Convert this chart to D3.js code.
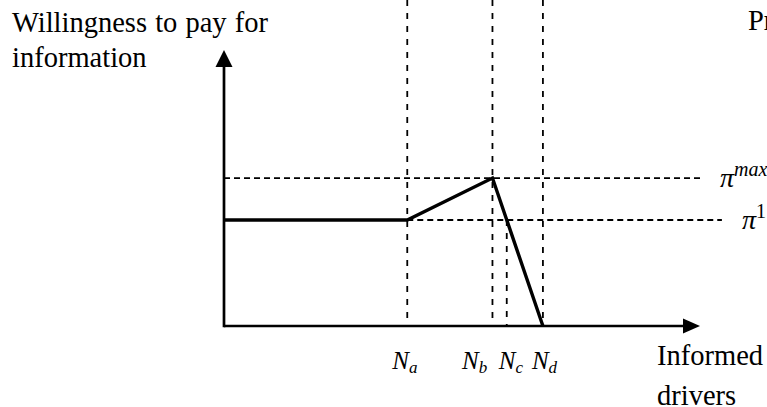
<!DOCTYPE html>
<html>
<head>
<meta charset="utf-8">
<script src="https://cdn.jsdelivr.net/npm/d3@7"></script>
<style>
  body { margin: 0; background: #fff; }
  svg { display: block; }
</style>
</head>
<body>
<div id="chart"></div>
<script>
// critical numbers of informed drivers (x, arbitrary units 0..100)
var nNames = ["a", "b", "c", "d"];
var nValues = [38.5, 56.4, 59.4, 67.0];

// willingness-to-pay levels (y, arbitrary units 0..100)
var priceNames = ["max", "1"];
var priceValues = [53.6, 38.4];

// kinked willingness-to-pay curve: [N, price]
var curveX = [0, 38.5, 56.4, 67.0];
var curveY = [38.4, 38.4, 53.6, 0];

var serif = "'Liberation Serif'";

var width = 767, height = 407;
var margin = {left: 224, right: 67, top: 50, bottom: 81};

var svg = d3.select("#chart")
  .append("svg")
    .attr("width", width)
    .attr("height", height);

var x = d3.scaleLinear()
  .domain([0, 100])
  .range([margin.left, width - margin.right]);

var y = d3.scaleLinear()
  .domain([0, 100])
  .range([height - margin.bottom, margin.top]);

var yTop = y.invert(0);

// vertical dashed guides (Nc only rises to the pi^1 line)
svg.selectAll(".vguide")
  .data(nValues)
  .enter()
  .append("line")
    .attr("class", "vguide")
    .attr("x1", function(d) { return x(d); })
    .attr("x2", function(d) { return x(d); })
    .attr("y1", function(d, i) { return nNames[i] == "c" ? y(priceValues[1]) : y(yTop); })
    .attr("y2", y(0))
    .attr("stroke", "#000")
    .attr("stroke-width", 1.8)
    .attr("stroke-dasharray", "6,7");

// horizontal dashed guides
svg.selectAll(".hguide")
  .data(priceValues)
  .enter()
  .append("line")
    .attr("class", "hguide")
    .attr("x1", function(d, i) { return i == 0 ? x(0) : x(nValues[0]); })
    .attr("x2", function(d, i) { return i == 0 ? x(100) : x(104.6); })
    .attr("y1", function(d) { return y(d); })
    .attr("y2", function(d) { return y(d); })
    .attr("stroke", "#000")
    .attr("stroke-width", 1.8)
    .attr("stroke-dasharray", "6,4");

// axes with arrow heads
svg.append("line")
  .attr("x1", x(0)).attr("x2", x(100) - 10)
  .attr("y1", y(0)).attr("y2", y(0))
  .attr("stroke", "#000").attr("stroke-width", 2.7);
svg.append("line")
  .attr("x1", x(0)).attr("x2", x(0))
  .attr("y1", y(0) + 1.3).attr("y2", y(100) + 10)
  .attr("stroke", "#000").attr("stroke-width", 2.7);

svg.append("path")
  .attr("d", "M" + x(100) + "," + y(0) + "l-17,-7.5l0,15z")
  .attr("fill", "#000");
svg.append("path")
  .attr("d", "M" + x(0) + "," + y(100) + "l-8.5,17l17,0z")
  .attr("fill", "#000");

// the curve
var pts = curveX.map(function(d, i) { return [d, curveY[i]]; });
svg.append("path")
  .datum(pts)
  .attr("fill", "none")
  .attr("stroke", "#000")
  .attr("stroke-width", 3.4)
  .attr("stroke-linejoin", "miter")
  .attr("d", d3.line()
    .x(function(d) { return x(d[0]); })
    .y(function(d) { return y(d[1]); }));

// N labels under the x axis
var nShift = {a: -15, b: -30.5, c: -8, d: -11};
var nLab = svg.selectAll(".nlab")
  .data(nValues)
  .enter()
  .append("text")
    .attr("class", "nlab")
    .attr("x", function(d, i) { return x(d) + nShift[nNames[i]]; })
    .attr("y", y(0) + 43)
    .attr("font-family", serif)
    .attr("font-style", "italic")
    .attr("font-size", 25);
nLab.append("tspan")
  .attr("font-family", serif)
  .attr("font-style", "italic")
  .text("N");
nLab.append("tspan")
  .attr("dy", 4)
  .attr("font-family", serif)
  .attr("font-style", "italic")
  .attr("font-size", 17)
  .text(function(d, i) { return nNames[i]; });

// pi labels to the right of the dashed lines
var piShift = [20, 20];
var piLab = svg.selectAll(".pilab")
  .data(priceValues)
  .enter()
  .append("text")
    .attr("class", "pilab")
    .attr("x", function(d, i) { return (i == 0 ? x(100) : x(104.6)) + piShift[i]; })
    .attr("y", function(d) { return y(d) + 9; })
    .attr("font-family", serif)
    .attr("font-size", 28);
piLab.append("tspan")
  .attr("font-family", serif)
  .attr("font-style", "italic")
  .text("π");
piLab.append("tspan")
  .attr("dy", -11)
  .attr("font-family", serif)
  .attr("font-size", 20)
  .attr("font-style", function(d, i) { return i == 0 ? "italic" : "normal"; })
  .text(function(d, i) { return priceNames[i]; });

// axis titles
var yTitle = svg.append("text")
  .attr("font-family", serif)
  .attr("font-size", 28.5);
yTitle.append("tspan").attr("x", 12).attr("y", 32).attr("font-family", serif).attr("word-spacing", 1).text("Willingness to pay for");
yTitle.append("tspan").attr("x", 12).attr("y", 67).attr("font-family", serif).text("information");

var xTitle = svg.append("text")
  .attr("font-family", serif)
  .attr("font-size", 28.5);
xTitle.append("tspan").attr("x", 657).attr("y", 365).attr("font-family", serif).text("Informed");
xTitle.append("tspan").attr("x", 657).attr("y", 405).attr("font-family", serif).text("drivers");

svg.append("text")
  .attr("x", 748)
  .attr("y", 30)
  .attr("font-family", serif)
  .attr("font-size", 28.5)
  .text("Price");
</script>
</body>
</html>
